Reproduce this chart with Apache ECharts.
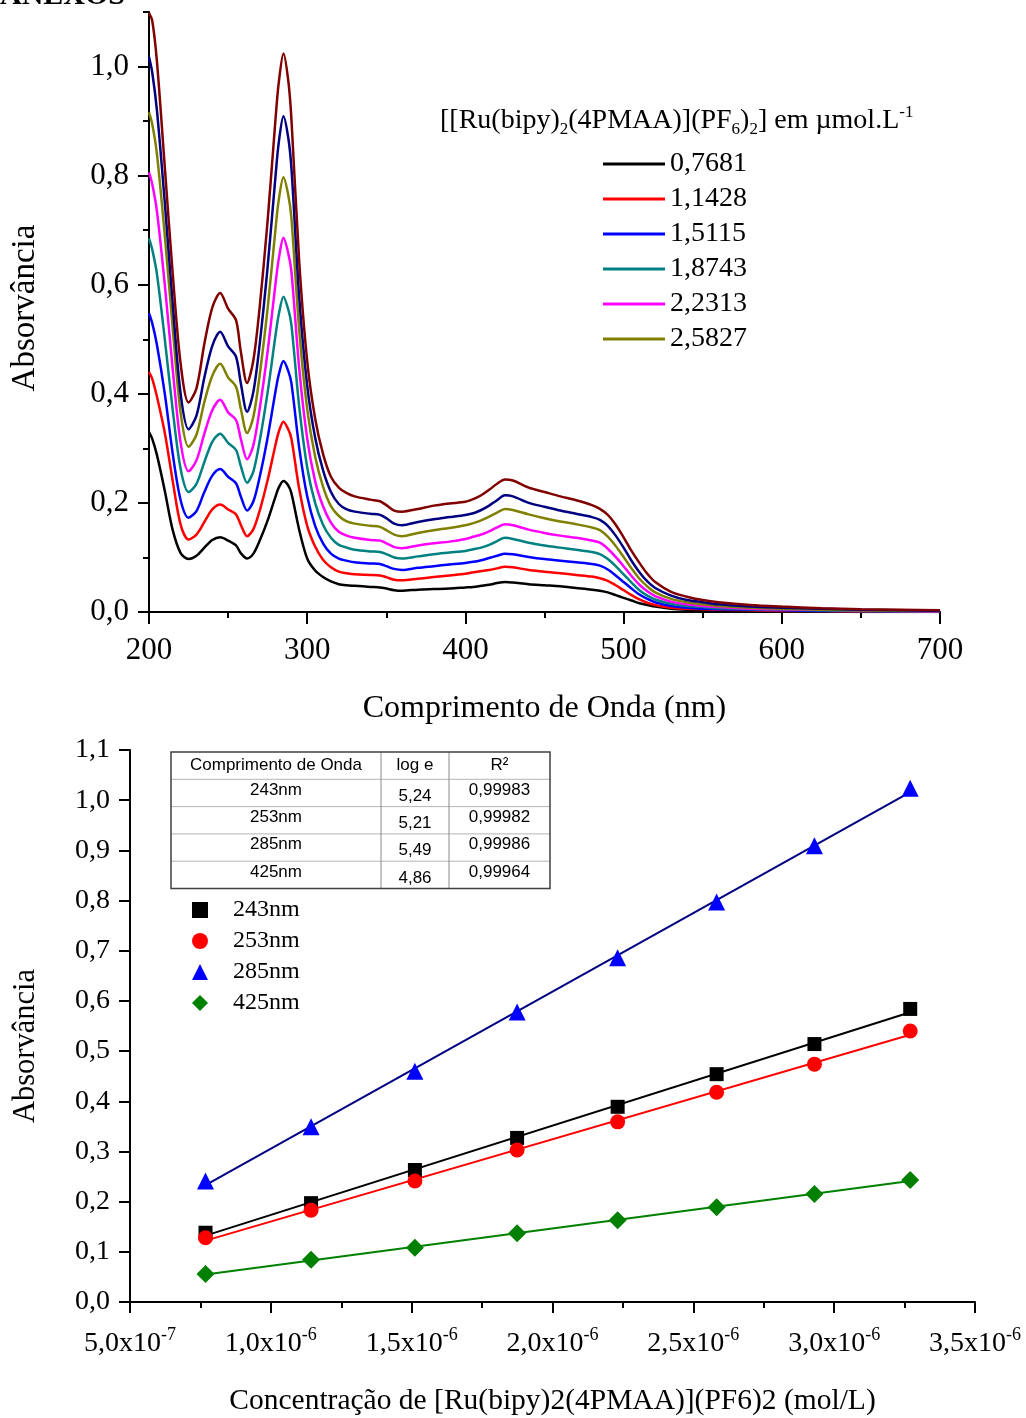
<!DOCTYPE html>
<html>
<head>
<meta charset="utf-8">
<script src="https://cdn.jsdelivr.net/npm/echarts@6/dist/echarts.min.js"></script>
<style>
  html, body { margin: 0; padding: 0; background: #ffffff; }
  #chart { width: 1026px; height: 1418px; }
</style>
</head>
<body>
<div id="chart"></div>
<script>
// ---------- UV-Vis spectra ----------
const wavelengths = [200,202,205,210,215,220,225,230,235,240,245,250,255,258,262,266,270,275,280,282,285,288,290,295,300,305,310,315,320,325,330,340,346,350,355,360,370,380,390,400,405,410,415,420,425,430,440,450,460,470,480,485,490,495,500,505,510,515,520,530,540,550,560,580,600,625,650,675,700];

const absC1 = [0.330,0.318,0.288,0.222,0.150,0.108,0.097,0.103,0.118,0.132,0.137,0.131,0.122,0.108,0.098,0.107,0.131,0.168,0.212,0.228,0.240,0.232,0.218,0.150,0.098,0.076,0.064,0.056,0.051,0.049,0.048,0.046,0.045,0.043,0.040,0.039,0.041,0.042,0.043,0.045,0.046,0.048,0.050,0.053,0.055,0.054,0.051,0.049,0.047,0.044,0.041,0.039,0.036,0.031,0.026,0.021,0.016,0.013,0.010,0.006,0.004,0.003,0.002,0.001,0.001,0.001,0.000,0.000,0.000];
const absC2 = [0.440,0.428,0.395,0.328,0.240,0.160,0.133,0.142,0.165,0.188,0.197,0.188,0.179,0.160,0.139,0.152,0.186,0.242,0.307,0.330,0.349,0.335,0.318,0.225,0.158,0.120,0.096,0.082,0.074,0.071,0.069,0.068,0.067,0.064,0.059,0.058,0.061,0.064,0.067,0.070,0.073,0.075,0.077,0.080,0.083,0.082,0.077,0.074,0.071,0.068,0.065,0.062,0.057,0.049,0.040,0.031,0.023,0.017,0.013,0.008,0.006,0.005,0.004,0.003,0.002,0.002,0.001,0.001,0.001];
const absC3 = [0.548,0.530,0.490,0.400,0.290,0.205,0.173,0.185,0.220,0.250,0.262,0.248,0.236,0.212,0.186,0.203,0.248,0.320,0.405,0.435,0.460,0.442,0.420,0.300,0.212,0.158,0.126,0.107,0.098,0.094,0.091,0.089,0.088,0.084,0.079,0.077,0.081,0.084,0.087,0.090,0.092,0.095,0.099,0.103,0.107,0.106,0.101,0.097,0.094,0.091,0.088,0.085,0.078,0.067,0.055,0.043,0.032,0.024,0.018,0.011,0.008,0.006,0.005,0.004,0.003,0.002,0.002,0.001,0.001];
const absC4 = [0.685,0.665,0.620,0.500,0.370,0.262,0.220,0.235,0.275,0.312,0.327,0.310,0.297,0.268,0.237,0.258,0.314,0.403,0.508,0.545,0.578,0.555,0.527,0.375,0.265,0.200,0.160,0.136,0.123,0.118,0.114,0.111,0.110,0.106,0.100,0.098,0.102,0.106,0.109,0.112,0.115,0.118,0.123,0.130,0.136,0.134,0.127,0.122,0.118,0.114,0.110,0.106,0.097,0.084,0.069,0.054,0.040,0.030,0.023,0.015,0.011,0.009,0.007,0.005,0.004,0.003,0.002,0.002,0.001];
const absC5 = [0.806,0.785,0.735,0.600,0.445,0.310,0.258,0.278,0.327,0.370,0.389,0.366,0.352,0.318,0.280,0.306,0.373,0.478,0.603,0.647,0.686,0.658,0.625,0.445,0.318,0.240,0.194,0.164,0.147,0.140,0.136,0.132,0.131,0.126,0.119,0.117,0.122,0.126,0.129,0.134,0.138,0.142,0.148,0.155,0.161,0.159,0.151,0.145,0.140,0.136,0.131,0.127,0.116,0.101,0.084,0.066,0.050,0.038,0.029,0.019,0.014,0.011,0.009,0.006,0.005,0.004,0.003,0.002,0.001];
const absC6 = [0.916,0.895,0.840,0.690,0.520,0.365,0.303,0.325,0.385,0.433,0.455,0.430,0.413,0.373,0.328,0.358,0.435,0.557,0.703,0.755,0.797,0.765,0.723,0.515,0.372,0.285,0.230,0.194,0.176,0.166,0.162,0.158,0.156,0.150,0.142,0.139,0.145,0.150,0.154,0.159,0.163,0.168,0.175,0.182,0.189,0.187,0.179,0.172,0.166,0.161,0.155,0.150,0.138,0.121,0.101,0.080,0.061,0.047,0.036,0.024,0.018,0.014,0.011,0.008,0.006,0.004,0.003,0.002,0.002];
const absC7 = [1.018,0.990,0.920,0.750,0.565,0.400,0.335,0.360,0.430,0.488,0.514,0.487,0.468,0.420,0.367,0.404,0.492,0.633,0.800,0.860,0.909,0.870,0.815,0.575,0.415,0.320,0.260,0.220,0.198,0.188,0.184,0.180,0.178,0.172,0.162,0.159,0.165,0.170,0.174,0.178,0.181,0.187,0.195,0.205,0.214,0.212,0.200,0.193,0.186,0.180,0.174,0.169,0.158,0.140,0.118,0.094,0.073,0.056,0.044,0.030,0.022,0.018,0.014,0.010,0.008,0.006,0.004,0.003,0.002];
const absC8 = [1.098,1.085,1.010,0.815,0.620,0.455,0.384,0.410,0.492,0.558,0.585,0.556,0.535,0.478,0.420,0.462,0.560,0.718,0.905,0.970,1.024,0.975,0.905,0.640,0.460,0.355,0.290,0.248,0.228,0.218,0.212,0.206,0.203,0.196,0.186,0.184,0.189,0.195,0.199,0.202,0.207,0.214,0.224,0.235,0.243,0.241,0.228,0.220,0.212,0.205,0.196,0.189,0.178,0.160,0.137,0.112,0.090,0.070,0.055,0.037,0.028,0.022,0.018,0.013,0.010,0.007,0.005,0.004,0.003];

const spectraNames = ['0,7681','1,1428','1,5115','1,8743','2,2313','2,5827','2,9300','3,2700'];
const spectraLegend = ['0,7681','1,1428','1,5115','1,8743','2,2313','2,5827'];

// ---------- calibration (Beer-Lambert) ----------
const concMicro = [0.7681, 1.1428, 1.5115, 1.8743, 2.2313, 2.5827, 2.93, 3.27];
const abs243 = [0.138, 0.197, 0.263, 0.327, 0.389, 0.454, 0.514, 0.584];
const abs253 = [0.128, 0.183, 0.241, 0.303, 0.359, 0.418, 0.474, 0.540];
const abs285 = [0.241, 0.349, 0.460, 0.578, 0.686, 0.797, 0.909, 1.024];
const abs425 = [0.056, 0.084, 0.108, 0.137, 0.163, 0.189, 0.215, 0.243];
const bandNames = ['243nm', '253nm', '285nm', '425nm'];

const tableHeader = ['Comprimento de Onda', 'log e', 'R²'];
const tableRows = [
  ['243nm', '5,24', '0,99983'],
  ['253nm', '5,21', '0,99982'],
  ['285nm', '5,49', '0,99986'],
  ['425nm', '4,86', '0,99964']
];

// ---------- tick positions and labels ----------
const specXTicks = [200, 300, 400, 500, 600, 700];
const specXLabels = ['200', '300', '400', '500', '600', '700'];
const specYTicks = [0, 0.2, 0.4, 0.6, 0.8, 1.0];
const specYLabels = ['0,0', '0,2', '0,4', '0,6', '0,8', '1,0'];
const specYMinor = [0.1, 0.3, 0.5, 0.7, 0.9, 1.1];
const calXTicks = [0.5, 1.0, 1.5, 2.0, 2.5, 3.0, 3.5];
const calXMantissa = ['5,0', '1,0', '1,5', '2,0', '2,5', '3,0', '3,5'];
const calXExponent = ['-7', '-6', '-6', '-6', '-6', '-6', '-6'];
const calYTicks = [0, 0.1, 0.2, 0.3, 0.4, 0.5, 0.6, 0.7, 0.8, 0.9, 1.0, 1.1];
const calYLabels = ['0,0','0,1','0,2','0,3','0,4','0,5','0,6','0,7','0,8','0,9','1,0','1,1'];

// ---------- styling ----------
const SERIF = '"Liberation Serif", "Times New Roman", serif';
const SANS = '"Liberation Sans", Arial, sans-serif';
const spectraColors = ['#000000', '#ff0000', '#0000ff', '#008080', '#ff00ff', '#808000', '#000080', '#800000'];
const bandStyles = [
  { symbol: 'rect', size: 14, color: '#000000', fit: '#000000' },
  { symbol: 'circle', size: 15, color: '#ff0000', fit: '#ff0000' },
  { symbol: 'triangle', size: 17, color: '#0000ff', fit: '#000080' },
  { symbol: 'diamond', size: 18, color: '#008000', fit: '#008000' }
];

function labelFor(ticks, labels) {
  return function (v) {
    for (let i = 0; i < ticks.length; i++) {
      if (Math.abs(ticks[i] - v) < 1e-9) return labels[i];
    }
    return '';
  };
}

function linearFit(xs, ys) {
  const n = xs.length;
  let sx = 0, sy = 0, sxx = 0, sxy = 0;
  for (let i = 0; i < n; i++) {
    sx += xs[i]; sy += ys[i]; sxx += xs[i] * xs[i]; sxy += xs[i] * ys[i];
  }
  const slope = (n * sxy - sx * sy) / (n * sxx - sx * sx);
  const intercept = (sy - slope * sx) / n;
  return [[xs[0], intercept + slope * xs[0]], [xs[n - 1], intercept + slope * xs[n - 1]]];
}

const spectra = [absC1, absC2, absC3, absC4, absC5, absC6, absC7, absC8];
const bands = [abs243, abs253, abs285, abs425];

const axisLine = { show: true, lineStyle: { color: '#000', width: 2 } };
const tickStyle = { color: '#000', width: 2 };

const series = [];
spectra.forEach(function (vals, i) {
  series.push({
    name: spectraNames[i],
    type: 'line',
    xAxisIndex: 0,
    yAxisIndex: 0,
    showSymbol: false,
    symbol: 'none',
    smooth: 0.3,
    data: wavelengths.map(function (w, k) { return [w, vals[k]]; }),
    lineStyle: { color: spectraColors[i], width: 2.5 },
    itemStyle: { color: spectraColors[i] },
    emphasis: { disabled: true },
    z: 2 + i
  });
});

bands.forEach(function (vals, i) {
  series.push({
    name: bandNames[i] + ' fit',
    type: 'line',
    xAxisIndex: 1,
    yAxisIndex: 2,
    showSymbol: false,
    symbol: 'none',
    data: linearFit(concMicro, vals),
    lineStyle: { color: bandStyles[i].fit, width: 2 },
    emphasis: { disabled: true },
    z: 2
  });
});
bands.forEach(function (vals, i) {
  series.push({
    name: bandNames[i],
    type: 'scatter',
    xAxisIndex: 1,
    yAxisIndex: 2,
    symbol: bandStyles[i].symbol,
    symbolSize: bandStyles[i].size,
    data: concMicro.map(function (c, k) { return [c, vals[k]]; }),
    itemStyle: { color: bandStyles[i].color, opacity: 1 },
    emphasis: { disabled: true },
    z: 5
  });
});

// table of molar absorptivities
const tableTop = 752, rowH = 27.3;
const colEdges = [171, 381, 449, 550];
const tableBottom = tableTop + rowH * (tableRows.length + 1);
const tableGraphics = [];
for (let r = 1; r <= tableRows.length; r++) {
  tableGraphics.push({
    type: 'line', shape: { x1: colEdges[0], y1: tableTop + r * rowH, x2: colEdges[3], y2: tableTop + r * rowH },
    style: { stroke: '#b4b4b4', lineWidth: 1 }
  });
}
[1, 2].forEach(function (c) {
  tableGraphics.push({
    type: 'line', shape: { x1: colEdges[c], y1: tableTop, x2: colEdges[c], y2: tableBottom },
    style: { stroke: '#8a8a8a', lineWidth: 1 }
  });
});
tableGraphics.push({
  type: 'rect', shape: { x: colEdges[0], y: tableTop, width: colEdges[3] - colEdges[0], height: tableBottom - tableTop },
  style: { fill: 'none', stroke: '#404040', lineWidth: 1.5 }
});
tableHeader.forEach(function (h, c) {
  tableGraphics.push({
    type: 'text', x: (colEdges[c] + colEdges[c + 1]) / 2, y: tableTop + rowH / 2,
    style: { text: h, font: '17px ' + SANS, fill: '#000', align: 'center', verticalAlign: 'middle' }
  });
});
tableRows.forEach(function (row, r) {
  row.forEach(function (cell, c) {
    const cy = tableTop + (r + 1.5) * rowH + (c === 1 ? 3 : -3);
    tableGraphics.push({
      type: 'text', x: (colEdges[c] + colEdges[c + 1]) / 2, y: cy,
      style: { text: cell, font: '17px ' + SANS, fill: '#000', align: 'center', verticalAlign: 'middle' }
    });
  });
});

const option = {
  backgroundColor: '#ffffff',
  animation: false,
  grid: [
    { left: 149, top: 12, width: 791, height: 600, outerBoundsMode: 'none', containLabel: false },
    { left: 130, top: 750, width: 845, height: 552, outerBoundsMode: 'none', containLabel: false }
  ],
  xAxis: [
    {
      gridIndex: 0, type: 'value', min: 200, max: 700, interval: 100,
      axisLine: axisLine,
      axisTick: { show: true, length: 12, lineStyle: tickStyle, customValues: specXTicks },
      minorTick: { show: true, splitNumber: 2, length: 6, lineStyle: tickStyle },
      splitLine: { show: false }, minorSplitLine: { show: false },
      axisLabel: { customValues: specXTicks, formatter: labelFor(specXTicks, specXLabels), fontSize: 31, fontFamily: SERIF, color: '#000', margin: 23 },
      name: 'Comprimento de Onda (nm)', nameLocation: 'middle', nameGap: 81,
      nameTextStyle: { fontSize: 32, fontFamily: SERIF, color: '#000' }
    },
    {
      gridIndex: 1, type: 'value', min: 0.5, max: 3.5, interval: 0.5,
      axisLine: axisLine,
      axisTick: { show: true, length: 11, lineStyle: tickStyle, customValues: calXTicks },
      minorTick: { show: true, splitNumber: 2, length: 6, lineStyle: tickStyle },
      splitLine: { show: false }, minorSplitLine: { show: false },
      axisLabel: {
        customValues: calXTicks,
        formatter: function (v) {
          for (let i = 0; i < calXTicks.length; i++) {
            if (Math.abs(calXTicks[i] - v) < 1e-9) return '{m|' + calXMantissa[i] + 'x10}{e|' + calXExponent[i] + '}';
          }
          return '';
        },
        margin: 24,
        rich: {
          m: { fontSize: 28, fontFamily: SERIF, color: '#000', lineHeight: 36 },
          e: { fontSize: 18, fontFamily: SERIF, color: '#000', lineHeight: 18, verticalAlign: 'top' }
        }
      },
      name: 'Concentração de [Ru(bipy)2(4PMAA)](PF6)2 (mol/L)', nameLocation: 'middle', nameGap: 84,
      nameTextStyle: { fontSize: 29.5, fontFamily: SERIF, color: '#000' }
    }
  ],
  yAxis: [
    {
      gridIndex: 0, type: 'value', min: 0, max: 1.1, position: 'left',
      axisLine: axisLine,
      axisTick: { show: true, length: 11, lineStyle: tickStyle, customValues: specYTicks },
      splitLine: { show: false },
      axisLabel: { customValues: specYTicks, formatter: labelFor(specYTicks, specYLabels), fontSize: 31, fontFamily: SERIF, color: '#000', margin: 20 },
      name: 'Absorvância', nameLocation: 'middle', nameGap: 107, nameRotate: 90,
      nameTextStyle: { fontSize: 33, fontFamily: SERIF, color: '#000', padding: [0, 0, 0, 8] }
    },
    {
      gridIndex: 0, type: 'value', min: 0, max: 1.1, position: 'left', offset: 0,
      axisLine: { show: false },
      axisTick: { show: true, length: 6, lineStyle: tickStyle, customValues: specYMinor },
      axisLabel: { show: false },
      splitLine: { show: false }
    },
    {
      gridIndex: 1, type: 'value', min: 0, max: 1.1, interval: 0.1,
      axisLine: axisLine,
      axisTick: { show: true, length: 11, lineStyle: tickStyle },
      splitLine: { show: false },
      axisLabel: { formatter: labelFor(calYTicks, calYLabels), fontSize: 28, fontFamily: SERIF, color: '#000', margin: 20 },
      name: 'Absorvância', nameLocation: 'middle', nameGap: 89, nameRotate: 90,
      nameTextStyle: { fontSize: 30.5, fontFamily: SERIF, color: '#000', padding: [0, 40, 0, 0] }
    }
  ],
  legend: [
    {
      data: spectraLegend, orient: 'vertical', left: 598, top: 145,
      icon: 'rect', itemWidth: 62, itemHeight: 3, itemGap: 7,
      selectedMode: false,
      textStyle: { fontSize: 28, fontFamily: SERIF, color: '#000', lineHeight: 28 }
    },
    {
      data: bandNames, orient: 'vertical', left: 187, top: 893,
      itemWidth: 16, itemHeight: 16, itemGap: 7,
      selectedMode: false,
      textStyle: { fontSize: 24, fontFamily: SERIF, color: '#000', lineHeight: 24, padding: [0, 0, 0, 20] }
    }
  ],
  graphic: [
    {
      type: 'text', x: 0, y: 11,
      style: { text: 'ANEXOS', font: 'bold 30px ' + SERIF, fill: '#000', verticalAlign: 'bottom' }
    },
    {
      type: 'text', x: 440, y: 121,
      style: {
        text: '[[Ru(bipy){sub|2}(4PMAA)](PF{sub|6}){sub|2}] em µmol.L{sup|-1}',
        font: '28px ' + SERIF, fill: '#000', verticalAlign: 'middle',
        rich: {
          sub: { fontSize: 17, fontFamily: SERIF, fill: '#000', lineHeight: 17, verticalAlign: 'bottom' },
          sup: { fontSize: 17, fontFamily: SERIF, fill: '#000', lineHeight: 17, verticalAlign: 'top' }
        },
        lineHeight: 34
      }
    }
  ].concat(tableGraphics),
  series: series
};

const chart = echarts.init(document.getElementById('chart'), null, { renderer: 'canvas' });
chart.setOption(option);
</script>
</body>
</html>
